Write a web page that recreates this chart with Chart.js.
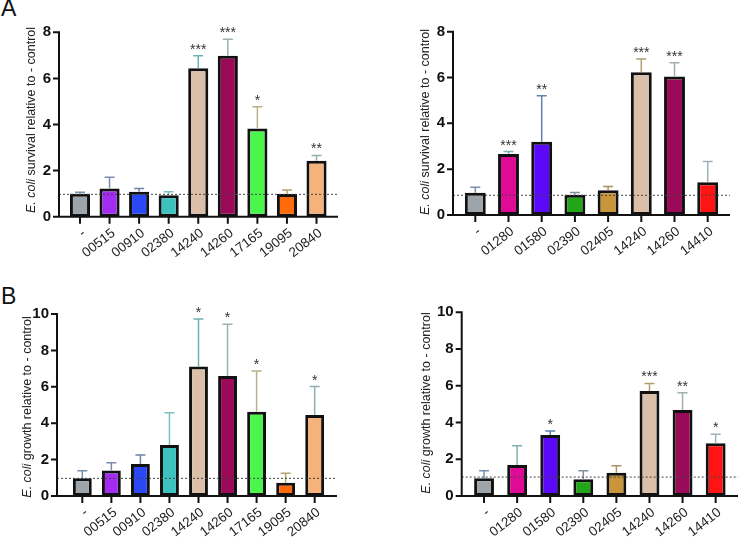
<!DOCTYPE html>
<html>
<head>
<meta charset="utf-8">
<script src="https://cdn.jsdelivr.net/npm/chart.js@4.4.0/dist/chart.umd.min.js"></script>
<style>
  body { margin: 0; background: #fff; width: 750px; height: 543px; position: relative; overflow: hidden;
         font-family: "Liberation Sans", Arial, sans-serif; }
  canvas { position: absolute; }
  .tag { position: absolute; font-size: 23px; line-height: 1; color: #111; }
</style>
</head>
<body>
<div class="tag" style="left:1px;top:-3px">A</div>
<div class="tag" style="left:1px;top:285px">B</div>
<canvas id="survivalLeft" width="375" height="270" style="left:0;top:0"></canvas>
<canvas id="survivalRight" width="375" height="270" style="left:375px;top:0"></canvas>
<canvas id="growthLeft" width="375" height="273" style="left:0;top:270px"></canvas>
<canvas id="growthRight" width="375" height="273" style="left:375px;top:270px"></canvas>

<script>
// ---------------- data ----------------

// A, left: survival
var survLeftLabels = ['-', '00515', '00910', '02380', '14240', '14260', '17165', '19095', '20840'];
var survLeftMeans  = [1.0, 1.22, 1.08, 0.93, 6.44, 6.98, 3.83, 0.98, 2.43];
var survLeftUpper  = [1.06, 1.71, 1.22, 1.08, 6.98, 7.70, 4.77, 1.16, 2.66];
var survLeftStars  = ['', '', '', '', '***', '***', '*', '', '**'];
var survLeftCtrl   = 0.97;

// A, right: survival
var survRightLabels = ['-', '01280', '01580', '02390', '02405', '14240', '14260', '14410'];
var survRightMeans  = [0.97, 2.66, 3.2, 0.88, 1.08, 6.23, 6.04, 1.43];
var survRightUpper  = [1.21, 2.77, 5.21, 0.98, 1.24, 6.81, 6.65, 2.33];
var survRightStars  = ['', '***', '**', '', '', '***', '***', ''];
var survRightCtrl   = 0.86;

// B, left: growth
var growLeftLabels = ['-', '00515', '00910', '02380', '14240', '14260', '17165', '19095', '20840'];
var growLeftMeans  = [0.97, 1.4, 1.76, 2.8, 7.12, 6.59, 4.63, 0.73, 4.45];
var growLeftUpper  = [1.39, 1.83, 2.25, 4.58, 9.72, 9.43, 6.87, 1.25, 6.01];
var growLeftStars  = ['', '', '', '', '*', '*', '*', '', '*'];
var growLeftCtrl   = 0.97;

// B, right: growth
var growRightLabels = ['-', '01280', '01580', '02390', '02405', '14240', '14260', '14410'];
var growRightMeans  = [0.96, 1.69, 3.32, 0.91, 1.27, 5.72, 4.68, 2.87];
var growRightUpper  = [1.38, 2.74, 3.54, 1.38, 1.65, 6.13, 5.62, 3.36];
var growRightStars  = ['', '', '*', '', '', '***', '**', '*'];
var growRightCtrl   = 1.03;

// ---------------- colours ----------------
var fillsLeft  = ['#9da5aa', '#a32cf2', '#2a48f5', '#3cc3c0', '#dbbfa9', '#9a0a58', '#4af64a', '#ff6a0a', '#f5b27a'];
var errLeft    = ['#7090b0', '#7a8ab0', '#7080a8', '#80c0c0', '#70b0b0', '#a0b0b0', '#b8b088', '#b8a070', '#90b0b0'];
var fillsRight = ['#9da5aa', '#df0b96', '#5a0af8', '#22a516', '#c8953a', '#dbbfa9', '#9a0a58', '#ff1414'];
var errRight   = ['#7890b0', '#80b0b0', '#6080b0', '#8090a0', '#b09060', '#b0a070', '#a0b0b0', '#a0b0b8'];

var FONT = '"Liberation Sans", Arial, sans-serif';

function makePanel(id, labels, means, upper, stars, ctrl, yMax, titleRest, fills, errColors, box) {
  var canvas = document.getElementById(id);
  var W = canvas.width, H = canvas.height;

  // error bars, stars, control line, axes, rotated x labels and the y title
  var extras = {
    id: 'extras_' + id,
    afterDatasetsDraw: function (chart) {
      var ctx = chart.ctx, ys = chart.scales.y;
      var bars = chart.getDatasetMeta(0).data;
      var bottom = chart.chartArea.bottom;
      ctx.save();

      bars.forEach(function (bar, i) {
        var yTop = ys.getPixelForValue(means[i]);
        var yErr = ys.getPixelForValue(upper[i]);
        ctx.strokeStyle = errColors[i];
        ctx.lineWidth = 1.5;
        ctx.beginPath();
        ctx.moveTo(bar.x, yTop);
        ctx.lineTo(bar.x, yErr);
        ctx.moveTo(bar.x - 5, yErr);
        ctx.lineTo(bar.x + 5, yErr);
        ctx.stroke();
        if (stars[i]) {
          ctx.fillStyle = '#333';
          ctx.font = '14px ' + FONT;
          ctx.textAlign = 'center';
          ctx.textBaseline = 'alphabetic';
          ctx.fillText(stars[i], bar.x, yErr - 2);
        }
      });

      // dashed control line
      var yc = ys.getPixelForValue(ctrl);
      ctx.strokeStyle = '#444';
      ctx.lineWidth = 1;
      ctx.setLineDash([2, 2]);
      ctx.beginPath();
      ctx.moveTo(box.axisX, yc);
      ctx.lineTo(box.axisEnd, yc);
      ctx.stroke();
      ctx.setLineDash([]);

      // axes
      ctx.strokeStyle = '#111';
      ctx.lineWidth = 2;
      ctx.beginPath();
      ctx.moveTo(box.axisX, chart.chartArea.top - 1);
      ctx.lineTo(box.axisX, bottom);
      ctx.lineTo(box.axisEnd, bottom);
      ys.ticks.forEach(function (t) {
        var y = ys.getPixelForValue(t.value);
        ctx.moveTo(box.axisX - 6, y);
        ctx.lineTo(box.axisX, y);
      });
      bars.forEach(function (bar) {
        ctx.moveTo(bar.x, bottom);
        ctx.lineTo(bar.x, bottom + 7);
      });
      ctx.stroke();

      // x labels, rotated
      ctx.fillStyle = '#222';
      ctx.font = '13.5px ' + FONT;
      ctx.textAlign = 'right';
      ctx.textBaseline = 'middle';
      bars.forEach(function (bar, i) {
        ctx.save();
        ctx.translate(bar.x + 4, bottom + 15);
        ctx.rotate(-38 * Math.PI / 180);
        ctx.fillText(labels[i], 0, 0);
        ctx.restore();
      });

      // y title, "E. coli" in italics
      ctx.translate(box.titleX, box.titleY);
      ctx.rotate(-Math.PI / 2);
      ctx.fillStyle = '#222';
      ctx.textBaseline = 'middle';
      ctx.textAlign = 'left';
      var italic = 'italic 12.5px ' + FONT, normal = '12.5px ' + FONT;
      ctx.font = italic;
      var w1 = ctx.measureText('E. coli').width;
      ctx.font = normal;
      var w2 = ctx.measureText(titleRest).width;
      var x0 = -(w1 + w2) / 2;
      ctx.font = italic;
      ctx.fillText('E. coli', x0, 0);
      ctx.font = normal;
      ctx.fillText(titleRest, x0 + w1, 0);
      ctx.restore();
    }
  };

  return new Chart(canvas, {
    type: 'bar',
    data: {
      labels: labels,
      datasets: [{
        data: means,
        backgroundColor: fills,
        borderColor: '#111',
        borderWidth: 3,
        borderSkipped: false,
        barPercentage: box.barPct,
        categoryPercentage: 1
      }]
    },
    options: {
      responsive: false,
      animation: false,
      layout: { autoPadding: false, padding: { left: 0, right: W - box.right, top: box.top, bottom: 0 } },
      plugins: { legend: { display: false }, tooltip: { enabled: false } },
      scales: {
        x: {
          grid: { display: false, drawTicks: false },
          border: { display: false },
          ticks: { display: false },
          afterFit: function (s) { s.height = H - box.bottom; }
        },
        y: {
          min: 0, max: yMax,
          grid: { display: false, drawTicks: false },
          border: { display: false },
          ticks: { stepSize: 2, padding: box.left - box.axisX + 8, color: '#111',
                   font: { family: FONT, size: 15, weight: 'bold' } },
          afterFit: function (s) { s.width = box.left; }
        }
      }
    },
    plugins: [extras]
  });
}

makePanel('survivalLeft', survLeftLabels, survLeftMeans, survLeftUpper, survLeftStars, survLeftCtrl, 8,
  ' survival relative to - control', fillsLeft, errLeft,
  { left: 65.2, right: 331.3, top: 32.3, bottom: 216.7, axisX: 59, axisEnd: 338, titleX: 32, titleY: 120, barPct: 0.68 });

makePanel('survivalRight', survRightLabels, survRightMeans, survRightUpper, survRightStars, survRightCtrl, 8,
  ' survival relative to - control', fillsRight, errRight,
  { left: 83.7, right: 349.3, top: 31.7, bottom: 215, axisX: 78, axisEnd: 355, titleX: 51, titleY: 122, barPct: 0.63 });

makePanel('growthLeft', growLeftLabels, growLeftMeans, growLeftUpper, growLeftStars, growLeftCtrl, 10,
  ' growth relative to - control', fillsLeft, errLeft,
  { left: 67.8, right: 329.2, top: 44, bottom: 226, axisX: 57, axisEnd: 337, titleX: 28, titleY: 137, barPct: 0.65 });

makePanel('growthRight', growRightLabels, growRightMeans, growRightUpper, growRightStars, growRightCtrl, 10,
  ' growth relative to - control', fillsRight, errRight,
  { left: 92.5, right: 357.2, top: 42.3, bottom: 226, axisX: 86.7, axisEnd: 363, titleX: 51.5, titleY: 133, barPct: 0.6 });
</script>
</body>
</html>
